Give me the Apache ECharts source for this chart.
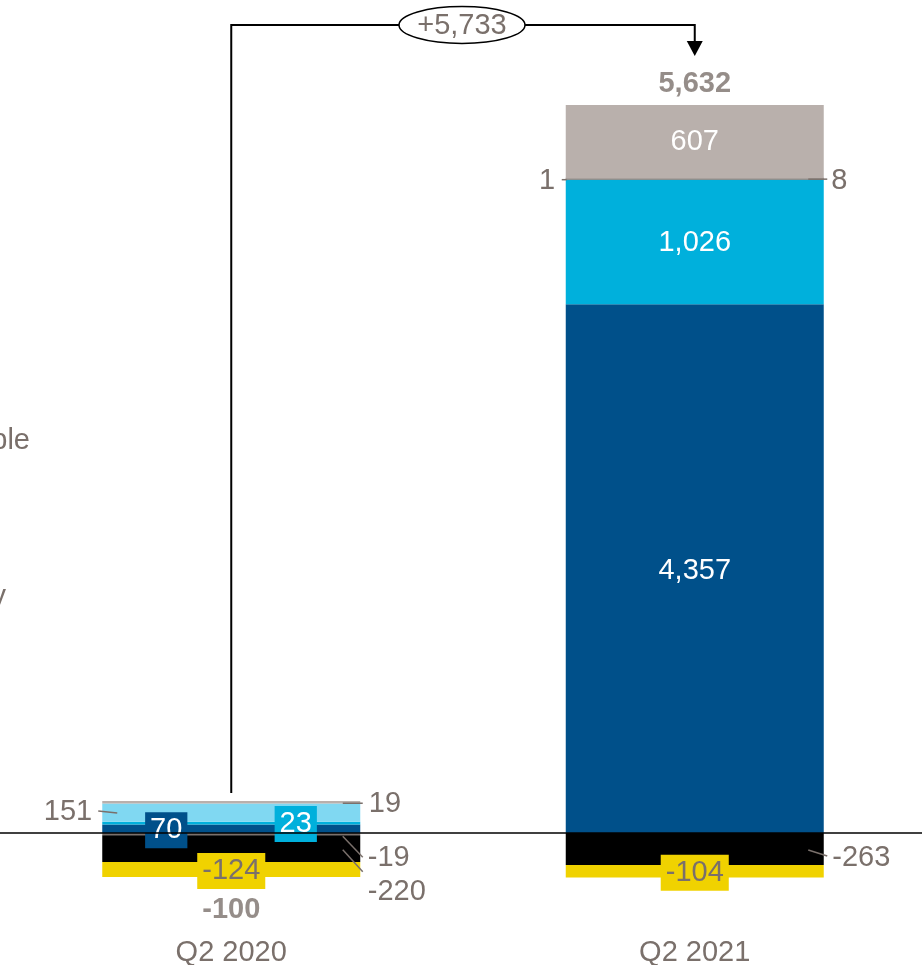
<!DOCTYPE html>
<html>
<head>
<meta charset="utf-8">
<script src="https://cdn.jsdelivr.net/npm/echarts@6/dist/echarts.min.js"></script>
<style>
  html, body { margin: 0; padding: 0; background: #fff; }
  #chart { width: 922px; height: 965px; }
</style>
</head>
<body>
<div id="chart"></div>
<script>
// Quarter-over-quarter bridge: stacked contributions per quarter
const categories = ['Q2 2020', 'Q2 2021'];
const navyValues   = [70, 4357];
const cyanValues   = [23, 1026];
const skyValues    = [151, 1];
const slateValues  = [-19, 8];
const taupeValues  = [19, 607];
const blackValues  = [-220, -263];
const yellowValues = [-124, -104];
// change as reported (rounded on unrounded totals)
const reportedChange = 5733;

const NAVY = '#00508a', CYAN = '#00b0dc', SKY = '#80d8f2', SLATE = '#7a706b',
      TAUPE = '#b9b0ac', BLACK = '#000000', YELLOW = '#f0d200', TEXT = '#7a706b';
const FONT = "'Liberation Sans', Arial, sans-serif";
const FS = 29;

const allSeries = [navyValues, cyanValues, skyValues, slateValues, taupeValues, blackValues, yellowValues];
const totals = categories.map((_, i) => allSeries.reduce((s, a) => s + a[i], 0));
const posTops = categories.map((_, i) => allSeries.reduce((s, a) => s + Math.max(a[i], 0), 0));
const negBottoms = categories.map((_, i) => allSeries.reduce((s, a) => s + Math.min(a[i], 0), 0));

const fmt = v => v.toLocaleString('en-US');
const base = { show: true, fontSize: FS, fontFamily: FONT, formatter: p => fmt(p.value) };
const inside = (extra) => Object.assign({}, base, { position: 'inside', color: '#fff' }, extra);
const side = (pos, dist, dy) => Object.assign({}, base, { position: pos, distance: dist, offset: [0, dy], color: TEXT });
const boxed = (bg, color, dx, dy) => Object.assign({}, base, {
  position: 'inside', offset: [dx, dy], backgroundColor: bg, color: color,
  lineHeight: 28, padding: [4, 5, 4, 5]
});

// per-series, per-quarter label styles
const labelStyles = {
  navy:   [boxed(NAVY, '#fff', -65, 1.5), inside({ offset: [0, 2] })],
  cyan:   [boxed(CYAN, '#fff', 64.5, 1), inside({ offset: [0, 1] })],
  sky:    [side('left', 10, -0.5), side('left', 10.5, 1)],
  slate:  [side('right', 7.5, 24), side('right', 7.5, 2)],
  taupe:  [side('right', 8.5, 2), inside({ offset: [0, 0] })],
  black:  [side('right', 7.5, 43), side('right', 8.5, 9)],
  yellow: [boxed(YELLOW, TEXT, 0, 1.5), boxed(YELLOW, TEXT, 0, 1.5)]
};

function barSeries(name, values, color, extra) {
  return Object.assign({
    name: name, type: 'bar', stack: 'bridge', barWidth: 258, silent: true,
    itemStyle: { color: color },
    data: values.map((v, i) => ({ value: v, label: labelStyles[name][i] }))
  }, extra || {});
}

const chart = echarts.init(document.getElementById('chart'), null, { renderer: 'canvas' });

chart.setOption({
  animation: false,
  backgroundColor: '#fff',
  grid: { left: -0.5, width: 927, top: 7.8, bottom: 10.65, containLabel: false, outerBoundsMode: 'none' },
  xAxis: {
    type: 'category', data: categories,
    axisLine: { show: false }, axisTick: { show: false }, splitLine: { show: false },
    axisLabel: { color: TEXT, fontSize: FS, fontFamily: FONT, margin: -1, verticalAlign: 'middle' }
  },
  yAxis: {
    type: 'value', min: -1000, max: 6800, show: false, splitLine: { show: false }
  },
  series: [
    barSeries('navy', navyValues, NAVY, {
      markLine: {
        silent: true, symbol: 'none', label: { show: false },
        lineStyle: { color: '#000', width: 1.5, type: 'solid' },
        data: [{ yAxis: 0 }], z: 10
      }
    }),
    barSeries('cyan', cyanValues, CYAN),
    barSeries('sky', skyValues, SKY),
    barSeries('slate', slateValues, SLATE, { barMinHeight: 2 }),
    barSeries('taupe', taupeValues, TAUPE),
    barSeries('black', blackValues, BLACK),
    barSeries('yellow', yellowValues, YELLOW),
    {
      name: 'total', type: 'scatter', symbolSize: 0, silent: true,
      data: categories.map((c, i) => ({
        value: [c, i === 0 ? negBottoms[i] : posTops[i]],
        label: {
          show: true, position: i === 0 ? 'bottom' : 'top', distance: i === 0 ? 18 : 7,
          fontSize: FS, fontWeight: 'bold', fontFamily: FONT, color: TEXT,
          formatter: () => fmt(totals[i])
        }
      }))
    }
  ]
});

// bridge connector, change bubble and leader lines in pixel space
const cx = categories.map(c => chart.convertToPixel({ xAxisIndex: 0 }, c));
const py = v => chart.convertToPixel({ yAxisIndex: 0 }, v);
const cum = (i, upto) => allSeries.slice(0, upto).reduce((s, a) => s + (Math.sign(a[i]) === Math.sign(allSeries[upto][i]) ? a[i] : 0), 0);
const mid = (i, k) => py(cum(i, k) + allSeries[k][i] / 2);

const lead = (x1, y1, x2, y2) => ({
  type: 'line', silent: true, z: 20,
  shape: { x1: x1, y1: y1, x2: x2, y2: y2 },
  style: { stroke: SLATE, lineWidth: 1.5 }
});

const yTop = 25;
const bubbleX = (cx[0] + cx[1]) / 2 - 1;
const graphics = [
  {
    type: 'polyline', silent: true, z: 20,
    shape: { points: [[cx[0], py(posTops[0]) - 8], [cx[0], yTop], [cx[1], yTop], [cx[1], 42]] },
    style: { stroke: '#000', lineWidth: 2, fill: null }
  },
  {
    type: 'polygon', silent: true, z: 20,
    shape: { points: [[cx[1] - 8, 41], [cx[1] + 8, 41], [cx[1], 56]] },
    style: { fill: '#000' }
  },
  {
    type: 'ellipse', silent: true, z: 21,
    shape: { cx: bubbleX, cy: yTop, rx: 63, ry: 18.5 },
    style: { fill: '#fff', stroke: '#000', lineWidth: 1.5 }
  },
  {
    type: 'text', silent: true, z: 22,
    x: bubbleX, y: yTop + 1,
    style: { text: '+' + fmt(reportedChange), fill: TEXT, fontSize: FS, fontFamily: FONT, align: 'center', verticalAlign: 'middle' }
  },
  // Q2 2020 leaders
  lead(cx[0] - 133, mid(0, 2) - 1.5, cx[0] - 114, mid(0, 2) + 0.5),
  lead(cx[0] + 111.5, mid(0, 4) + 1, cx[0] + 131.5, mid(0, 4) + 1),
  lead(cx[0] + 111.5, mid(0, 3) + 2, cx[0] + 131.5, mid(0, 3) + 23),
  lead(cx[0] + 111.5, mid(0, 5) + 1, cx[0] + 131.5, mid(0, 5) + 23),
  // Q2 2021 leaders
  lead(cx[1] - 133, mid(1, 2), cx[1] - 128, mid(1, 2)),
  lead(cx[1] + 113.5, mid(1, 3), cx[1] + 132.5, mid(1, 3)),
  lead(cx[1] + 113.5, mid(1, 5) + 1, cx[1] + 132.5, mid(1, 5) + 7),
  // legend text running in from the left edge
  {
    type: 'text', silent: true, x: 30, y: 441,
    style: { text: 'ble', fill: TEXT, fontSize: FS, fontFamily: FONT, align: 'right', verticalAlign: 'middle' }
  },
  {
    type: 'text', silent: true, x: 6, y: 597,
    style: { text: 'y', fill: TEXT, fontSize: FS, fontFamily: FONT, align: 'right', verticalAlign: 'middle' }
  }
];
chart.setOption({ graphic: graphics });
</script>
</body>
</html>
